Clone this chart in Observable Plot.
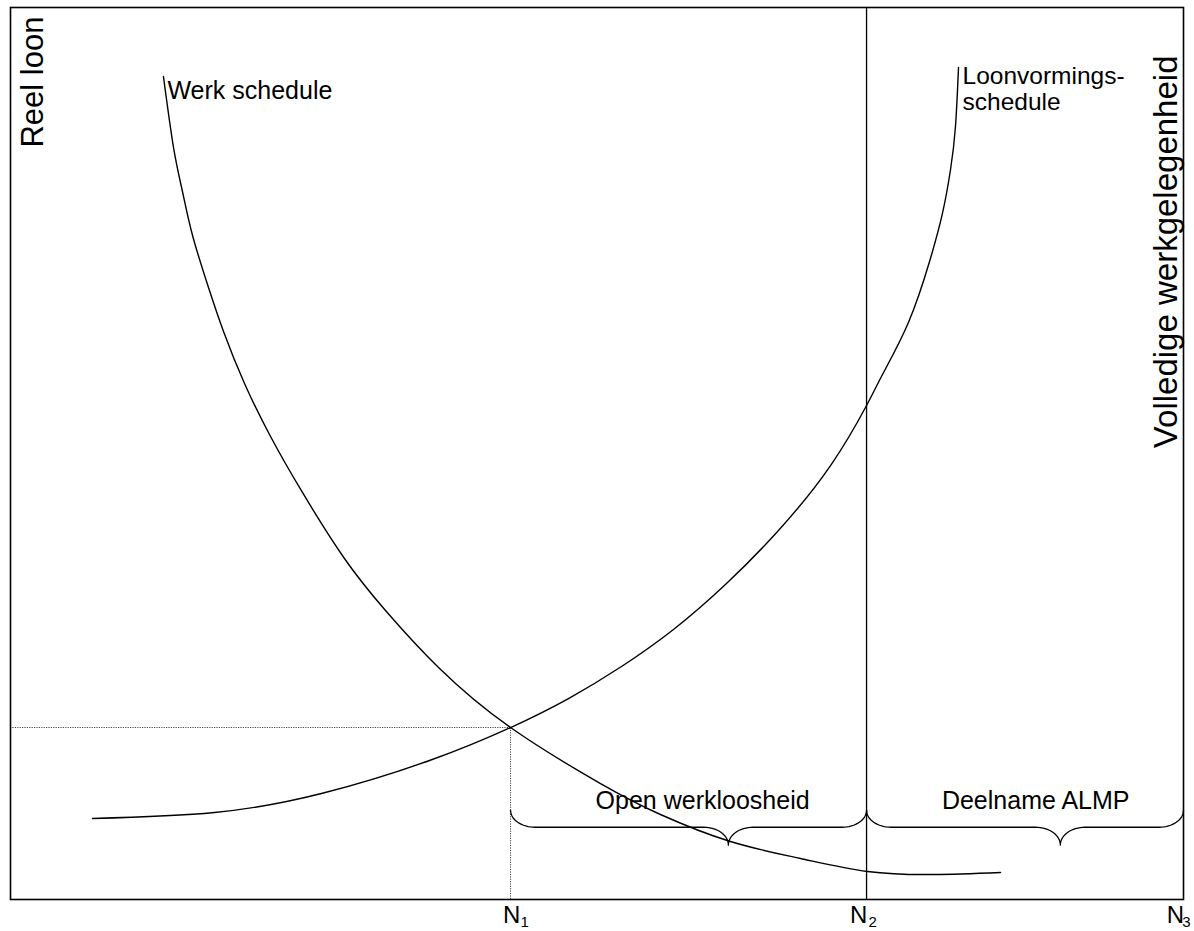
<!DOCTYPE html>
<html>
<head>
<meta charset="utf-8">
<script src="https://cdn.jsdelivr.net/npm/d3@7"></script>
<script src="https://cdn.jsdelivr.net/npm/@observablehq/plot@0.6"></script>
<style>
  html, body { margin: 0; padding: 0; background: #fff; }
  svg { display: block; }
</style>
</head>
<body>
<div id="chart"></div>
<script>
// --- Data (abstract units: x = employment 0..100, y = real wage 0..100) ---
const werkX = [13.04, 13.90, 14.66, 15.52, 16.88, 18.16, 19.95, 22.17, 24.89, 28.47, 31.97, 36.49, 42.63, 50.30, 55.41, 61.38, 67.35, 73.06, 78.69, 84.40];
const werkY = [92.26, 84.30, 79.37, 74.44, 68.61, 63.68, 57.85, 51.91, 45.63, 38.23, 32.40, 26.01, 19.28, 13.00, 9.53, 6.50, 4.60, 3.14, 2.80, 3.03];

const loonX = [6.99, 17.39, 26.51, 35.72, 42.63, 47.57, 52.09, 56.52, 60.95, 65.47, 69.91, 72.98, 74.34, 76.55, 78.35, 79.45, 80.14, 80.56, 80.82];
const loonY = [9.08, 9.75, 11.88, 15.58, 19.28, 22.53, 26.12, 30.27, 35.31, 41.37, 48.65, 55.38, 58.86, 64.69, 71.52, 76.91, 81.84, 86.66, 93.27];

const N1 = 42.63, N2 = 72.98, N3 = 100;
const eqWage = 19.28;

const tickValues = [N1, N2, N3];
const tickNames = ["N", "N", "N"];
const tickSubs = ["1", "2", "3"];

const braceLabels = ["Open werkloosheid", "Deelname ALMP"];
const braceFrom = [N1, N2];
const braceTo = [N2, N3];
const braceTip = [61.2, 89.5];
const braceEndY = 10.0, braceMidY = 8.1, braceTipY = 6.1, braceR = 2.1;
const braceLabelX = [59.0, 87.4];
const braceLabelY = 11.0;

// --- Build tables ---
const werk = werkX.map((x, i) => ({x, y: werkY[i]}));
const loon = loonX.map((x, i) => ({x, y: loonY[i]}));

// curly brace outline built from its start, end and tip
function brace(x1, x2, tip, id) {
  const pts = [];
  const n = 16;
  for (let k = 0; k <= n; k++) { const t = k / n * Math.PI / 2;
    pts.push({x: x1 + braceR - braceR * Math.cos(t), y: braceEndY - (braceEndY - braceMidY) * Math.sin(t), id}); }
  for (let k = 0; k <= n; k++) { const t = k / n * Math.PI / 2;
    pts.push({x: tip - braceR + braceR * Math.sin(t), y: braceTipY + (braceMidY - braceTipY) * Math.cos(t), id}); }
  for (let k = 0; k <= n; k++) { const t = k / n * Math.PI / 2;
    pts.push({x: tip + braceR - braceR * Math.cos(t), y: braceTipY + (braceMidY - braceTipY) * Math.sin(t), id}); }
  for (let k = 0; k <= n; k++) { const t = k / n * Math.PI / 2;
    pts.push({x: x2 - braceR + braceR * Math.sin(t), y: braceMidY + (braceEndY - braceMidY) * (1 - Math.cos(t)), id}); }
  return pts;
}
const braces = braceFrom.flatMap((x1, i) => brace(x1, braceTo[i], braceTip[i], i));

const ticks = tickValues.map((v, i) => ({v, name: tickNames[i], sub: tickSubs[i]}));
const tickDx = [1, -8, -8];
const subDx = [13, 14, 11];

const font = "Liberation Sans, Arial, Helvetica, sans-serif";

const chart = Plot.plot({
  width: 1194,
  height: 931,
  marginTop: 7,
  marginLeft: 10,
  marginRight: 11,
  marginBottom: 32,
  x: {domain: [0, 100], axis: null},
  y: {domain: [0, 100], axis: null},
  style: {fontFamily: font, color: "#000", background: "#fff"},
  marks: [
    Plot.ruleY([eqWage], {x1: 0, x2: N1, stroke: "#444", strokeWidth: 1, strokeDasharray: "1.2,1.2"}),
    Plot.ruleX([N1], {y1: 0, y2: eqWage, stroke: "#444", strokeWidth: 1, strokeDasharray: "1.2,1.2"}),
    Plot.ruleX([N2], {stroke: "#000", strokeWidth: 1.3}),
    Plot.line(werk, {x: "x", y: "y", curve: "natural", stroke: "#000", strokeWidth: 1.4}),
    Plot.line(loon, {x: "x", y: "y", curve: "natural", stroke: "#000", strokeWidth: 1.4}),
    Plot.line(braces, {x: "x", y: "y", z: "id", stroke: "#000", strokeWidth: 1.3}),
    Plot.text(braceLabels, {x: (d, i) => braceLabelX[i], y: braceLabelY, text: d => d, fontSize: 25, textAnchor: "middle", lineAnchor: "middle", fill: "#000"}),
    Plot.text(["Werk schedule"], {x: werkX[0], y: 90.6, text: d => d, dx: 4, fontSize: 25, textAnchor: "start", lineAnchor: "middle", fill: "#000"}),
    Plot.text(["Loonvormings-\nschedule"], {x: loonX[loonX.length - 1], y: 90.9, text: d => d, dx: 4, fontSize: 24.5, lineHeight: 1.08, textAnchor: "start", lineAnchor: "middle", fill: "#000"}),
    Plot.text(["Reel loon"], {x: 1.9, y: 84.3, text: d => d, rotate: -90, fontSize: 31, textAnchor: "start", lineAnchor: "middle", fill: "#000"}),
    Plot.text(["Volledige werkgelegenheid"], {x: 98.55, y: 50.6, text: d => d, rotate: -90, fontSize: 33, textAnchor: "start", lineAnchor: "middle", fill: "#000"}),
    ...ticks.map((t, i) => Plot.text([t], {x: "v", frameAnchor: "bottom", text: "name", dx: tickDx[i], dy: 16, fontSize: 24, textAnchor: "middle", lineAnchor: "middle", fill: "#000"})),
    ...ticks.map((t, i) => Plot.text([t], {x: "v", frameAnchor: "bottom", text: "sub", dx: tickDx[i] + subDx[i], dy: 23, fontSize: 15, textAnchor: "middle", lineAnchor: "middle", fill: "#000"})),
    Plot.frame({stroke: "#000", strokeWidth: 1.6})
  ]
});
document.getElementById("chart").append(chart);
</script>
</body>
</html>
